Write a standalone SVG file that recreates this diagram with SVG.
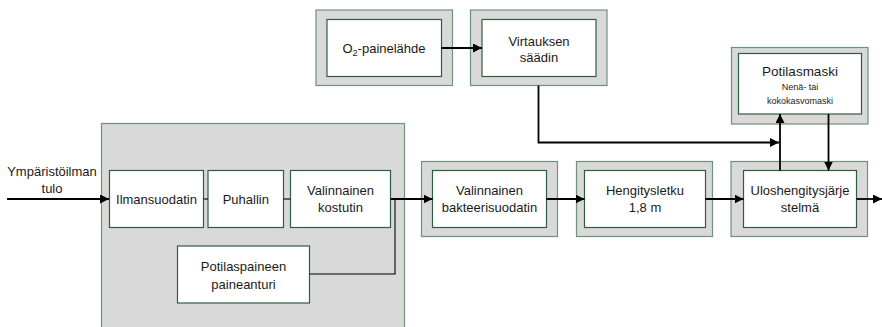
<svg xmlns="http://www.w3.org/2000/svg" width="882" height="327" viewBox="0 0 882 327">
<style>
.outer{fill:#d9d9d9;stroke:#6f927a;stroke-width:1.2}
.inner{fill:#fff;stroke:#2f5e3f;stroke-width:1.2}
text{font-family:"Liberation Sans",Arial,sans-serif;font-size:13px;fill:#1a1a1a;text-anchor:middle}
.sm{font-size:9px}
.big{font-size:13.5px}
.c{fill:none;stroke:#000;stroke-width:1.8}
.t{fill:none;stroke:#000;stroke-width:1.1}
</style>
<defs>
<marker id="ah" viewBox="0 0 10 10" refX="10" refY="5" markerWidth="5" markerHeight="5" orient="auto" markerUnits="strokeWidth">
<path d="M0,0 L10,5 L0,10 z" fill="#000"/>
</marker>
</defs>
<g id="ventilaattori">
<rect class="outer" x="101.5" y="123.5" width="303" height="210"/>
</g>
<g id="ymparisto">
<text x="52" y="176">Ympäristöilman</text>
<text x="52" y="192.5">tulo</text>
</g>
<g id="ilmansuodatin">
<rect class="inner" x="109.5" y="170.5" width="94" height="57"/>
<text x="156.5" y="203.5">Ilmansuodatin</text>
</g>
<g id="puhallin">
<rect class="inner" x="208" y="170.5" width="75.5" height="57"/>
<text x="245.8" y="203.5">Puhallin</text>
</g>
<g id="kostutin">
<rect class="inner" x="290.5" y="170.5" width="100" height="57"/>
<text x="340.5" y="195">Valinnainen</text>
<text x="340.5" y="212">kostutin</text>
</g>
<g id="painesensori">
<rect class="inner" x="177.5" y="246" width="132" height="57"/>
<text x="243.5" y="271">Potilaspaineen</text>
<text x="243.5" y="288.5">paineanturi</text>
</g>
<g id="o2">
<rect class="outer" x="316" y="10" width="136.5" height="75.5"/>
<rect class="inner" x="327" y="19.5" width="114.5" height="57"/>
<text x="384" y="52.5">O<tspan font-size="9" dy="3">2</tspan><tspan dy="-3">-painelähde</tspan></text>
</g>
<g id="virtaus">
<rect class="outer" x="470.5" y="10" width="136.5" height="75.5"/>
<rect class="inner" x="482" y="19.5" width="114" height="57"/>
<text x="539" y="45.5">Virtauksen</text>
<text x="539" y="62">säädin</text>
</g>
<g id="maski">
<rect class="outer" x="731.5" y="47.5" width="136.5" height="76.5"/>
<rect class="inner" x="738.5" y="53.5" width="123" height="60.5"/>
<text class="big" x="800" y="76">Potilasmaski</text>
<text class="sm" x="800" y="89.5">Nenä- tai</text>
<text class="sm" x="800" y="103.5">kokokasvomaski</text>
</g>
<g id="bakteeri">
<rect class="outer" x="421.5" y="161.5" width="136" height="75"/>
<rect class="inner" x="432.5" y="170.5" width="114" height="57"/>
<text x="489.5" y="195">Valinnainen</text>
<text x="489.5" y="212">bakteerisuodatin</text>
</g>
<g id="letku">
<rect class="outer" x="576.5" y="161.5" width="136" height="75"/>
<rect class="inner" x="584.5" y="170.5" width="121" height="57"/>
<text x="645" y="195">Hengitysletku</text>
<text x="645" y="212">1,8 m</text>
</g>
<g id="uloshengitys">
<rect class="outer" x="731" y="161.5" width="136.5" height="75"/>
<rect class="inner" x="743.5" y="170.5" width="113" height="57"/>
<text x="800" y="195">Uloshengitysjärje</text>
<text x="800" y="212">stelmä</text>
</g>
<g id="connectors">
<line class="c" x1="7" y1="199" x2="109" y2="199" marker-end="url(#ah)"/>
<line class="t" x1="203.5" y1="199" x2="208" y2="199"/>
<line class="t" x1="283.5" y1="199" x2="290.5" y2="199"/>
<line class="c" x1="390.5" y1="199" x2="432.5" y2="199" marker-end="url(#ah)"/>
<polyline class="t" points="309.5,274 395,274 395,199"/>
<line class="c" x1="546.5" y1="199" x2="584.5" y2="199" marker-end="url(#ah)"/>
<line class="c" x1="705.5" y1="199" x2="743.5" y2="199" marker-end="url(#ah)"/>
<line class="c" x1="856.5" y1="199" x2="882" y2="199" marker-end="url(#ah)"/>
<line class="c" x1="441.5" y1="48" x2="482" y2="48" marker-end="url(#ah)"/>
<polyline class="c" points="538.5,85.5 538.5,142.5 779,142.5" marker-end="url(#ah)"/>
<line class="c" x1="780" y1="170.5" x2="780" y2="114" marker-end="url(#ah)"/>
<line class="c" x1="828.5" y1="114" x2="828.5" y2="170.5" marker-end="url(#ah)"/>
</g>
</svg>
